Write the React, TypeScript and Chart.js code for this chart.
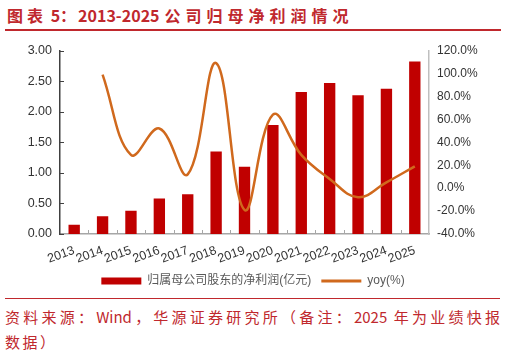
import React, { useEffect, useRef } from 'react';
import { Chart, registerables } from 'chart.js';

Chart.register(...registerables);

// ---- data ----
const years = ['2013', '2014', '2015', '2016', '2017', '2018', '2019', '2020', '2021', '2022', '2023', '2024', '2025'];
const netProfit = [0.15, 0.29, 0.38, 0.58, 0.65, 1.35, 1.1, 1.78, 2.32, 2.47, 2.27, 2.375, 2.82];
const yoy = [null, 99, 29, 52, 12, 109, -19, 64, 29, 8, -8, 5, 19];
const barLabel = '归属母公司股东的净利润(亿元)';
const lineLabel = 'yoy(%)';
const leftMin = 0;
const leftMax = 3;
const leftStep = 0.5;
const rightMin = -40;
const rightMax = 120;
const rightStep = 20;

const RED = '#C00000';
const ORANGE = '#D0691D';
const TITLE_RED = '#C0282D';
const LATIN = '"Liberation Sans", "Noto Sans CJK SC", sans-serif';

const innerTicks = {
  id: 'innerTicks',
  afterDatasetsDraw(chart: any) {
    const { ctx, scales } = chart;
    const x = scales.x;
    const y = scales.y;
    ctx.save();
    ctx.lineWidth = 1;
    ctx.strokeStyle = '#404040';
    y.ticks.forEach((_t: any, i: number) => {
      const py = Math.round(y.getPixelForTick(i)) + 0.5;
      ctx.beginPath();
      ctx.moveTo(y.right, py);
      ctx.lineTo(y.right + 4, py);
      ctx.stroke();
    });
    ctx.strokeStyle = '#a6a6a6';
    for (let i = 1; i < years.length; i++) {
      const px = Math.round((x.getPixelForValue(i - 1) + x.getPixelForValue(i)) / 2) + 0.5;
      ctx.beginPath();
      ctx.moveTo(px, x.top);
      ctx.lineTo(px, x.top - 4);
      ctx.stroke();
    }
    ctx.restore();
  },
};

function ChartBox() {
  const ref = useRef<HTMLCanvasElement | null>(null);
  useEffect(() => {
    if (!ref.current) return;
    const chart = new Chart(ref.current, {
      type: 'bar',
      data: {
        labels: years,
        datasets: [
          {
            type: 'bar',
            label: barLabel,
            data: netProfit,
            backgroundColor: RED,
            barPercentage: 0.4,
            categoryPercentage: 1,
            yAxisID: 'y',
            order: 1,
          },
          {
            type: 'line',
            label: lineLabel,
            data: yoy as any,
            borderColor: ORANGE,
            backgroundColor: ORANGE,
            borderWidth: 2.5,
            tension: 0.4,
            pointRadius: 0,
            yAxisID: 'y1',
            order: 0,
          },
        ] as any,
      },
      plugins: [innerTicks],
      options: {
        animation: false,
        responsive: false,
        maintainAspectRatio: false,
        layout: { padding: { top: 13, bottom: 0, left: 0, right: 0 } },
        plugins: {
          tooltip: { enabled: false },
          legend: {
            position: 'bottom',
            labels: {
              usePointStyle: true,
              pointStyleWidth: 40,
              boxHeight: 7,
              padding: 10,
              color: '#595959',
              font: { size: 12, family: LATIN },
              generateLabels: () => [
                {
                  text: barLabel,
                  fillStyle: RED,
                  strokeStyle: RED,
                  lineWidth: 0,
                  pointStyle: 'rect',
                  datasetIndex: 0,
                  hidden: false,
                  fontColor: '#595959',
                },
                {
                  text: lineLabel,
                  fillStyle: 'rgba(0,0,0,0)',
                  strokeStyle: ORANGE,
                  lineWidth: 3,
                  pointStyle: 'line',
                  datasetIndex: 1,
                  hidden: false,
                  fontColor: '#595959',
                },
              ] as any,
            },
          },
        },
        scales: {
          x: {
            type: 'category',
            offset: true,
            grid: { display: false, drawTicks: false },
            border: { display: true, color: '#a6a6a6', width: 1.5 },
            ticks: {
              minRotation: 20,
              maxRotation: 20,
              autoSkip: false,
              padding: 9,
              color: '#333333',
              font: { size: 12.5, family: LATIN },
            },
            afterFit: (s: any) => {
              s.height = 31;
            },
          },
          y: {
            position: 'left',
            min: leftMin,
            max: leftMax,
            grid: { display: false, drawTicks: false },
            border: { display: true, color: '#404040', width: 1.5 },
            ticks: {
              stepSize: leftStep,
              padding: 8,
              color: '#333333',
              font: { size: 12.5, family: LATIN },
              callback: (v: any) => Number(v).toFixed(2),
            },
            afterFit: (s: any) => {
              s.width = 60;
            },
          },
          y1: {
            position: 'right',
            min: rightMin,
            max: rightMax,
            grid: { display: false, drawTicks: false },
            border: { display: true, color: '#bfbfbf', width: 1.5 },
            ticks: {
              stepSize: rightStep,
              padding: 8,
              color: '#333333',
              font: { size: 12, family: LATIN },
              callback: (v: any) => Number(v).toFixed(1) + '%',
            },
            afterFit: (s: any) => {
              s.width = 77;
            },
          },
        },
      } as any,
    });
    return () => chart.destroy();
  }, []);
  return <canvas ref={ref} width={506} height={262} style={{ display: 'block', width: 506, height: 262 }} />;
}

export default function App() {
  const cjk = '"Noto Sans CJK SC", sans-serif';
  return (
    <div style={{ position: 'absolute', left: 0, top: 0, width: 506, height: 354, background: '#fff', overflow: 'hidden' }}>
      <div
        style={{
          position: 'absolute',
          left: 7,
          top: 3,
          whiteSpace: 'nowrap',
          fontFamily: cjk,
          fontWeight: 700,
          fontSize: 16,
          lineHeight: '24px',
          color: TITLE_RED,
        }}
      >
        <span style={{ letterSpacing: 4 }}>图表</span> 5：
        <span style={{ marginLeft: 2 }}>2013-2025</span>
        <span style={{ letterSpacing: 5, marginLeft: 5 }}>公司归母净利润情况</span>
      </div>
      <div style={{ position: 'absolute', left: 5, top: 29, width: 496, height: 2, background: TITLE_RED }} />
      <div style={{ position: 'absolute', left: 0, top: 35, width: 506, height: 262 }}>
        <ChartBox />
      </div>
      <div style={{ position: 'absolute', left: 5, top: 297.5, width: 495, height: 1.5, background: TITLE_RED }} />
      <div
        style={{
          position: 'absolute',
          left: 5,
          top: 305,
          width: 495,
          fontFamily: cjk,
          fontSize: 15,
          lineHeight: '24px',
          color: TITLE_RED,
          textAlign: 'justify',
          textAlignLast: 'justify' as any,
          whiteSpace: 'nowrap',
        }}
      >
        资料来源：Wind，华源证券研究所（备注：2025 年为业绩快报
      </div>
      <div
        style={{
          position: 'absolute',
          left: 5,
          top: 330,
          fontFamily: cjk,
          fontSize: 15,
          lineHeight: '24px',
          color: TITLE_RED,
          letterSpacing: 2.5,
          whiteSpace: 'nowrap',
        }}
      >
        数据）
      </div>
    </div>
  );
}
